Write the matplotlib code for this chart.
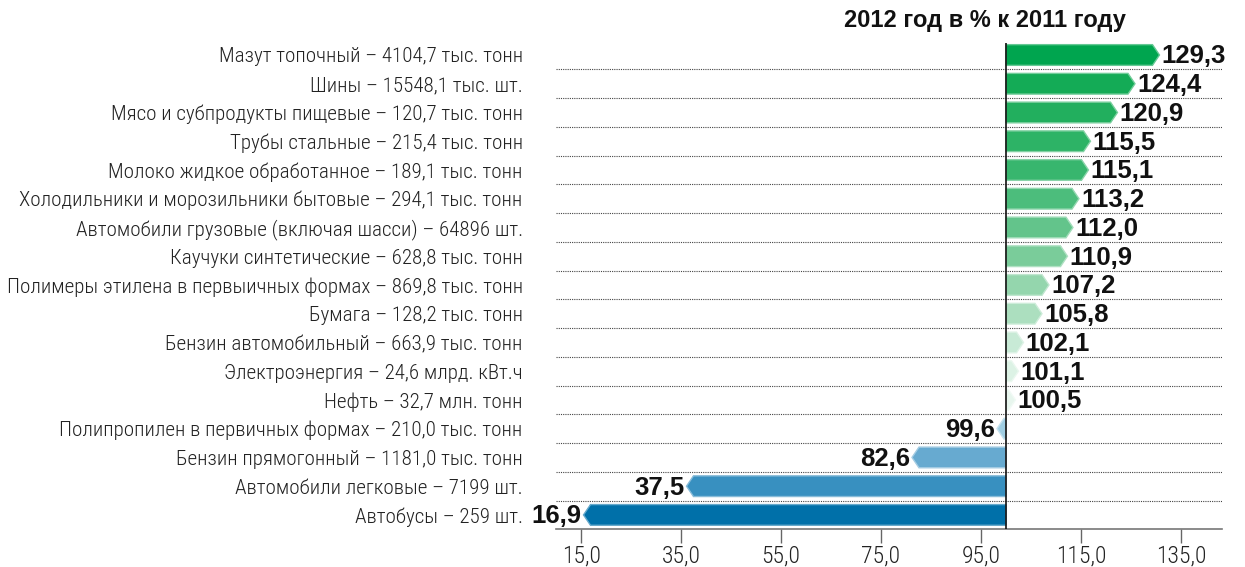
import matplotlib
matplotlib.use("Agg")
import matplotlib.pyplot as plt
from matplotlib import font_manager
from matplotlib.patches import Polygon
from matplotlib.colors import to_rgb

labels = [
    "Мазут топочный – 4104,7 тыс. тонн",
    "Шины – 15548,1 тыс. шт.",
    "Мясо и субпродукты пищевые – 120,7 тыс. тонн",
    "Трубы стальные – 215,4 тыс. тонн",
    "Молоко жидкое обработанное – 189,1 тыс. тонн",
    "Холодильники и морозильники бытовые – 294,1 тыс. тонн",
    "Автомобили грузовые (включая шасси) – 64896 шт.",
    "Каучуки синтетические – 628,8 тыс. тонн",
    "Полимеры этилена в первыичных формах – 869,8 тыс. тонн",
    "Бумага – 128,2 тыс. тонн",
    "Бензин автомобильный – 663,9 тыс. тонн",
    "Электроэнергия – 24,6 млрд. кВт.ч",
    "Нефть – 32,7 млн. тонн",
    "Полипропилен в первичных формах – 210,0 тыс. тонн",
    "Бензин прямогонный – 1181,0 тыс. тонн",
    "Автомобили легковые – 7199 шт.",
    "Автобусы – 259 шт.",
]
values = [129.3, 124.4, 120.9, 115.5, 115.1, 113.2, 112.0, 110.9, 107.2,
          105.8, 102.1, 101.1, 100.5, 99.6, 82.6, 37.5, 16.9]
colors = ["#00a54f", "#14ab56", "#22af5e", "#2db366", "#38b66e", "#4cbd7c",
          "#63c48b", "#7acc9a", "#94d6ad", "#acdfbf", "#c8ead6", "#dcf2e5",
          "#e8f6ee", "#9fcde2", "#67aad0", "#3890c0", "#0070a9"]
xticks = [15, 35, 55, 75, 95, 115, 135]
title = "2012 год в % к 2011 году"
base = 100

available = {f.name for f in font_manager.fontManager.ttflist}
narrow = "DejaVu Sans"
for name in ["Roboto Condensed", "Liberation Sans Narrow", "Open Sans Condensed"]:
    if name in available:
        narrow = name
        break
bold = "Liberation Sans" if "Liberation Sans" in available else "DejaVu Sans"

fig = plt.figure(figsize=(12.45, 5.67), dpi=100)
ax = fig.add_axes([0.4466, 0.067, 0.5349, 0.8573])

h = 0.72
tip = 1.4
for i, (v, c) in enumerate(zip(values, colors)):
    d = 1 if v >= base else -1
    end = v + d * tip
    pts = [(base, i - h / 2), (v, i - h / 2), (end, i), (v, i + h / 2), (base, i + h / 2)]
    rgb = to_rgb(c)
    edge = tuple(0.6 * x + 0.4 for x in rgb)
    ax.add_patch(Polygon(pts, closed=True, facecolor=c, edgecolor=edge, lw=1, zorder=3))
    txt = f"{v:.1f}".replace(".", ",")
    ax.annotate(txt, (end, i), xytext=(1.5 * d, -1), textcoords="offset points",
                ha="left" if d > 0 else "right", va="center",
                fontsize=18.5, fontweight="bold", family=bold, color="#111111", zorder=4)

for k in range(len(values) - 1):
    ax.axhline(k + 0.5, color="#444444", lw=0.8, ls=(0, (1, 1)), zorder=1)

ax.axvline(base, color="#111111", lw=1.2, zorder=5)

ax.set_xlim(10, 143.2)
ax.set_ylim(len(values) - 0.51, -0.42)

ax.set_yticks(range(len(labels)))
ax.set_yticklabels(labels, family=narrow, fontweight="light", fontsize=15.1, color="#222222")
ax.tick_params(axis="y", length=0, pad=24)

ax.set_xticks(xticks)
ax.set_xticklabels([f"{t:.1f}".replace(".", ",") for t in xticks],
                   family=narrow, fontweight="light", fontsize=17, color="#222222")
ax.tick_params(axis="x", length=10, width=1, color="#666666", pad=1.5)

for s in ["top", "right", "left"]:
    ax.spines[s].set_visible(False)
ax.spines["bottom"].set_color("#777777")
ax.spines["bottom"].set_linewidth(1.2)

fig.text(985 / 1245, 1 - 20 / 567, title, ha="center", va="center",
         fontsize=17, fontweight="bold", family=bold, color="#111111")

fig.savefig("out.png", dpi=100)
